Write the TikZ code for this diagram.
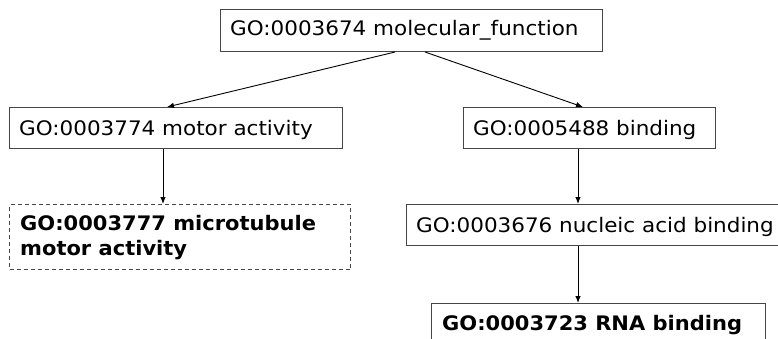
\documentclass[tikz,border=0pt]{standalone}
\usepackage{fontspec}
\setmainfont{DejaVu Sans}[FakeStretch=1.075,BoldFeatures={FakeStretch=1.05}]
\usetikzlibrary{arrows.meta}
\definecolor{boxgray}{RGB}{70,70,70}
\begin{document}
\begin{tikzpicture}[x=1pt,y=-1pt,
  box/.style={draw=boxgray, line width=1pt, rectangle, anchor=north west, inner sep=0pt},
  lbl/.style={anchor=base west, inner sep=0pt, font=\fontsize{20}{25}\selectfont},
  arr/.style={draw=black, line width=0.9pt, -{Latex[length=7pt,width=5.5pt]}}]
\useasboundingbox (0,0) rectangle (778,338);
\fill[white] (0,0) rectangle (778,338);
\clip (0,0) rectangle (778,338);
% boxes
\node[box, minimum width=382pt, minimum height=42pt] (top) at (220,9) {};
\node[box, minimum width=333pt, minimum height=41pt] (motor) at (9,107) {};
\node[box, minimum width=252pt, minimum height=41pt] (binding) at (463,107) {};
\node[box, dash pattern=on 4pt off 3pt, minimum width=341pt, minimum height=65pt] (micro) at (9,204) {};
\node[box, minimum width=384pt, minimum height=41pt] (nucleic) at (406,204) {};
\node[box, minimum width=334pt, minimum height=50pt] (rna) at (431,303) {};
% labels
\node[lbl] (topL) at (230,35) {GO:0003674 molecular\_function};
\node[lbl] (motorL) at (19,135) {GO:0003774 motor activity};
\node[lbl] (bindingL) at (473,135) {GO:0005488 binding};
\node[lbl] (microL) at (20,230) {\parbox[t]{330pt}{\raggedright\bfseries GO:0003777 microtubule\\motor activity}};
\node[lbl] (nucleicL) at (416,232) {GO:0003676 nucleic acid binding};
\node[lbl] (rnaL) at (442,330) {\bfseries GO:0003723 RNA binding};
% connectors
\draw[arr] ([xshift=175pt]top.south west) -- ([xshift=158pt]motor.north west);
\draw[arr] ([xshift=205pt]top.south west) -- ([xshift=120pt]binding.north west);
\draw[arr] ([xshift=154pt]motor.south west) -- ([xshift=154pt]micro.north west);
\draw[arr] ([xshift=115pt]binding.south west) -- ([xshift=172pt]nucleic.north west);
\draw[arr] ([xshift=172pt]nucleic.south west) -- ([xshift=147pt]rna.north west);
\end{tikzpicture}
\end{document}
